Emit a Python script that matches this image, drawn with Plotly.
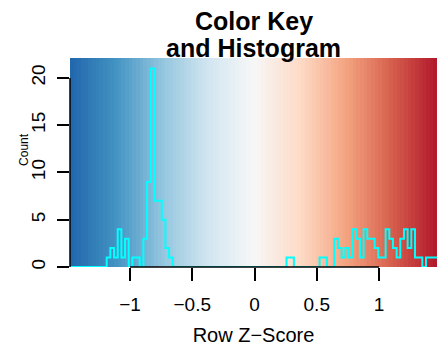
import numpy as np
import plotly.graph_objects as go

# Range of the row z-scores covered by the colour key
key_min = -1.482
key_max = 1.466
n_bins = 100

# Histogram counts per break interval (left to right)
counts = [
    0, 0, 0, 0, 0, 0, 0, 0, 0, 0,
    1, 2, 1, 4, 1, 3, 0, 1, 1, 0,
    3, 9, 21, 7, 7, 5, 2, 1, 0, 0,
    0, 0, 0, 0, 0, 0, 0, 0, 0, 0,
    0, 0, 0, 0, 0, 0, 0, 0, 0, 0,
    0, 0, 0, 0, 0, 0, 0, 0, 0, 1,
    1, 0, 0, 0, 0, 0, 0, 0, 1, 1,
    0, 0, 3, 2, 1, 2, 1, 4, 3, 1,
    4, 3, 3, 2, 1, 1, 4, 3, 2, 1,
    3, 4, 2, 4, 1, 1, 0, 1, 1, 1,
]

x_ticks = [-1, -0.5, 0, 0.5, 1]
y_ticks = [0, 5, 10, 15, 20]

# Reversed RdBu palette: blue for low scores, red for high scores
key_colors = ["#2166AC", "#4393C3", "#92C5DE", "#D1E5F0", "#F7F7F7",
              "#FDDBC7", "#F4A582", "#D6604D", "#B2182B"]

breaks = np.linspace(key_min, key_max, n_bins + 1)
centers = (breaks[:-1] + breaks[1:]) / 2
max_count = max(counts)
y_top = max_count / 0.95

colorscale = [[i / (len(key_colors) - 1), c] for i, c in enumerate(key_colors)]

fig = go.Figure()

# Colour key strip filling the whole panel
fig.add_trace(go.Heatmap(
    x=breaks,
    y=[0, y_top],
    z=[list(centers)],
    colorscale=colorscale,
    zmin=key_min, zmax=key_max,
    showscale=False,
    hoverinfo="skip",
))

# Histogram drawn as a step line over the key
fig.add_trace(go.Scatter(
    x=breaks,
    y=counts + [counts[-1]],
    mode="lines",
    line=dict(shape="hv", color="#00FFFF", width=2),
    hoverinfo="skip",
))

font_family = "Liberation Sans, Arial, sans-serif"

fig.update_layout(
    width=440, height=351,
    margin=dict(l=70, r=3, t=58, b=84),
    paper_bgcolor="white",
    plot_bgcolor="white",
    showlegend=False,
    font=dict(family=font_family, color="black"),
    xaxis=dict(
        range=[key_min, key_max],
        tickvals=x_ticks,
        ticks="outside", ticklen=13, tickwidth=1.5, tickcolor="black",
        tickfont=dict(size=19),
        ticklabelstandoff=7,
        showgrid=False, zeroline=False, showline=False,
        title=dict(text="Row Z\u2212Score", font=dict(size=20), standoff=14),
    ),
    yaxis=dict(
        range=[0, y_top],
        tickvals=y_ticks,
        tickangle=-90,
        ticks="outside", ticklen=12, tickwidth=1.5, tickcolor="black",
        tickfont=dict(size=19),
        ticklabelstandoff=4,
        showgrid=False, zeroline=False, showline=False,
    ),
    shapes=[
        # bottom axis line between the outer ticks
        dict(type="line", xref="x", yref="paper", x0=x_ticks[0], x1=x_ticks[-1],
             y0=0, y1=0, line=dict(color="black", width=1.5)),
        # left axis line between the outer ticks
        dict(type="line", xref="paper", yref="y", x0=0, x1=0,
             y0=y_ticks[0], y1=y_ticks[-1], line=dict(color="black", width=1.5)),
    ],
    annotations=[
        dict(text="<b>Color Key</b>", xref="paper", yref="paper",
             x=0.5, y=1.175, yanchor="middle", showarrow=False,
             font=dict(size=25)),
        dict(text="<b>and Histogram</b>", xref="paper", yref="paper",
             x=0.5, y=1.047, yanchor="middle", showarrow=False,
             font=dict(size=25)),
        dict(text="Count", xref="paper", yref="paper",
             x=0, xshift=-46, y=0.56, xanchor="center", yanchor="middle",
             textangle=-90, showarrow=False, font=dict(size=12)),
    ],
)

fig.write_html("out.html")
